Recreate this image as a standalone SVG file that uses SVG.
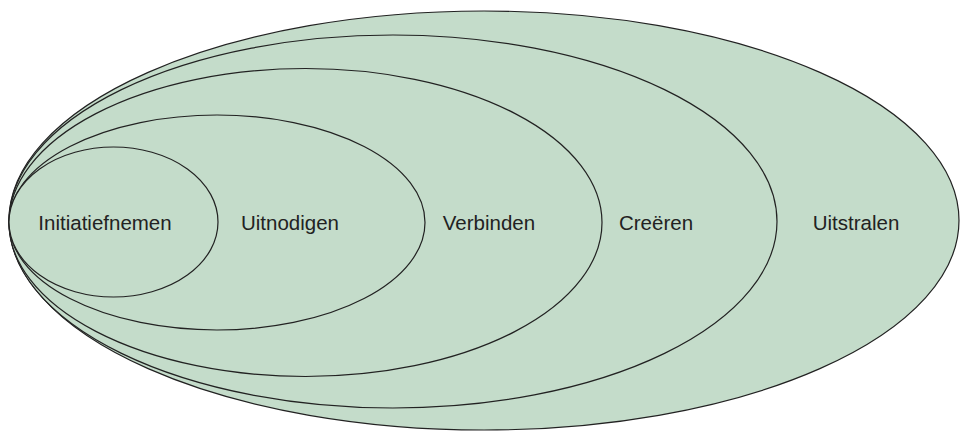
<svg xmlns="http://www.w3.org/2000/svg" width="961" height="431" viewBox="0 0 961 431">
<style>
.e{fill:#c4dcca;stroke:#222;stroke-width:1.2}
.t{font-family:"Liberation Sans",Arial,sans-serif;font-size:20.5px;fill:#222;text-anchor:middle}
</style>
<rect width="961" height="431" fill="#fff"/>
<g id="uitstralen">
<ellipse class="e" cx="484" cy="220.5" rx="475" ry="209.5"/>
<text class="t" x="856" y="230">Uitstralen</text>
</g>
<g id="creeren">
<ellipse class="e" cx="393" cy="221.5" rx="384" ry="186.5"/>
<text class="t" x="656" y="230">Creëren</text>
</g>
<g id="verbinden">
<ellipse class="e" cx="305.5" cy="222.5" rx="296.5" ry="154"/>
<text class="t" x="489" y="230">Verbinden</text>
</g>
<g id="uitnodigen">
<ellipse class="e" cx="217" cy="222.5" rx="208" ry="107.5"/>
<text class="t" x="290" y="230">Uitnodigen</text>
</g>
<g id="initiatiefnemen">
<ellipse class="e" cx="113.5" cy="222" rx="104.5" ry="75"/>
<text class="t" x="105" y="230">Initiatiefnemen</text>
</g>
<g id="connectors"></g>
</svg>
